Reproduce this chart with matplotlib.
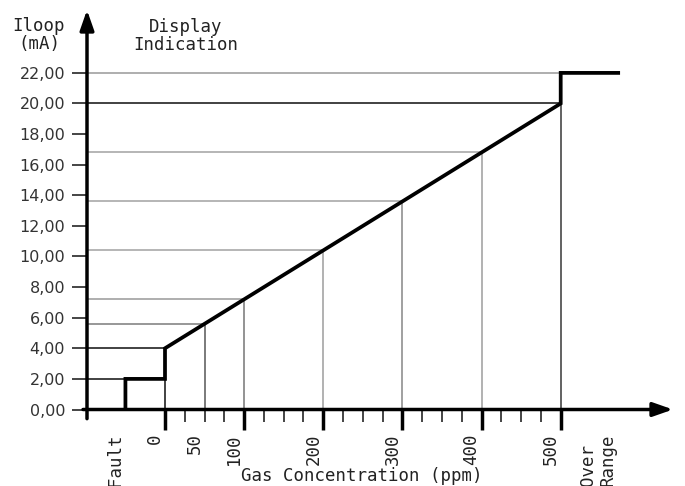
import matplotlib
matplotlib.use("Agg")
import matplotlib.pyplot as plt
from matplotlib.ticker import FuncFormatter
from matplotlib.transforms import ScaledTranslation, blended_transform_factory

# ---------------- data ----------------
curve_ppm = [-50, -50, 0, 0, 500, 500, 575]      # loop current response
curve_ma = [0, 2, 2, 4, 20, 22, 22]

ref_ppm = [50, 100, 200, 300, 400, 500]           # guide lines
ref_ma = [5.6, 7.2, 10.4, 13.6, 16.8, 20.0]

level_ppm = [-50, 0, 500]                         # fault / zero / over-range levels
level_ma = [2, 4, 22]

y_ticks = [0, 2, 4, 6, 8, 10, 12, 14, 16, 18, 20, 22]
x_major = [0, 100, 200, 300, 400, 500]
x_minor = [25, 50, 75, 125, 150, 175, 225, 250, 275, 325, 350, 375,
           425, 450, 475]
x_label_pos = [0, 50, 100, 200, 300, 400, 500]
x_label_txt = ["0", "50", "100", "200", "300", "400", "500"]
fault_pos, fault_txt = -50, "Fault"
over_pos, over_txt = 560, "Over\nRange"

# ---------------- styling ----------------
ref_h_colors = ["#8f8f8f", "#a8a8a8", "#b0b0b0", "#b0b0b0", "#b0b0b0", "#333333"]
ref_v_colors = ["#6f6f6f", "#8a8a8a", "#ababab", "#999999", "#ababab", "#555555"]
level_colors = ["#333333", "#333333", "#a8a8a8"]
mono = "DejaVu Sans Mono"
fs = 12.5

W, H = 685, 486
fig = plt.figure(figsize=(W / 100, H / 100), dpi=100)
ax = fig.add_axes([0, 0, 1, 1])
# pixel mapping: x_pix = 165 + 0.7914*ppm ; y_pix(top) = 409.5 - 15.3*mA
ax.set_xlim((0 - 165) / 0.7914, (W - 165) / 0.7914)
ax.set_ylim((409.5 - H) / 15.3, 409.5 / 15.3)
axis_x = (87 - 165) / 0.7914

for s in ax.spines.values():
    s.set_visible(False)
ax.spines["bottom"].set_position(("data", 0))
ax.spines["left"].set_position(("data", axis_x))
ax.patch.set_visible(False)

# guide lines
ax.hlines(ref_ma, axis_x, ref_ppm, colors=ref_h_colors, lw=1.3, zorder=1)
ax.vlines(ref_ppm, 0, ref_ma, colors=ref_v_colors, lw=1.3, zorder=1)
ax.hlines(level_ma, axis_x, level_ppm, colors=level_colors, lw=1.3, zorder=1)
ax.vlines([0], 0, [4], colors="#333333", lw=1.3, zorder=1)

# main response
ax.plot(curve_ppm, curve_ma, color="black", lw=2.7, solid_joinstyle="miter",
        solid_capstyle="butt", zorder=3)

# axes arrows
arrow = dict(arrowstyle="-|>,head_length=12,head_width=4.2", mutation_scale=1,
             lw=2.5, color="black", shrinkA=0, shrinkB=0)
ax.annotate("", xy=(axis_x, (409.5 - 10) / 15.3), xytext=(axis_x, -0.6),
            arrowprops=arrow, zorder=4)
ax.annotate("", xy=((673 - 165) / 0.7914, 0), xytext=((83 - 165) / 0.7914, 0),
            arrowprops=arrow, zorder=4)

# ticks
ax.set_yticks(y_ticks)
ax.yaxis.set_major_formatter(FuncFormatter(lambda v, p: f"{v:.2f}".replace(".", ",")))
ax.tick_params(axis="y", direction="out", length=10.8, width=1.4, color="#444444",
               pad=5, labelsize=11.5, labelcolor="#333333")
ax.set_xticks(x_major)
ax.set_xticks(x_minor, minor=True)
ax.tick_params(axis="x", which="major", direction="out", length=14.4, width=2.5,
               color="black", labelbottom=False)
ax.tick_params(axis="x", which="minor", direction="out", length=8.6, width=1.4,
               color="#444444", labelbottom=False)
ax.tick_params(axis="y", which="minor", left=False)

# x labels (rotated)
shift = ScaledTranslation(-10 / 100, 0, fig.dpi_scale_trans)
bt = blended_transform_factory(ax.transData, fig.transFigure)
for p, t in zip(x_label_pos, x_label_txt):
    ax.text(p, 1 - 433 / H, t, rotation=90, ha="center", va="top",
            family=mono, fontsize=fs, color="#222222", transform=bt + shift)
ax.text(fault_pos, 1 - 486 / H, fault_txt, rotation=90, ha="center", va="bottom",
        family=mono, fontsize=fs, color="#222222", transform=bt + shift)
ax.text(over_pos, 1 - 486 / H, over_txt, rotation=90, ha="center", va="bottom",
        multialignment="left", linespacing=1.15,
        family=mono, fontsize=fs, color="#222222", transform=bt + shift)

# titles
fig.text(362 / W, 1 - 481 / H, "Gas Concentration (ppm)", ha="center", va="baseline",
         family=mono, fontsize=fs, color="#222222")
fig.text(39 / W, 1 - 35 / H, "Iloop\n(mA)", ha="center", va="center",
         multialignment="center", linespacing=0.95,
         family=mono, fontsize=fs, color="#222222")
fig.text(186 / W, 1 - 36 / H, "Display\nIndication", ha="center", va="center",
         multialignment="center", linespacing=1.0,
         family=mono, fontsize=fs, color="#222222")

fig.savefig("out.png", dpi=100, facecolor="white")
